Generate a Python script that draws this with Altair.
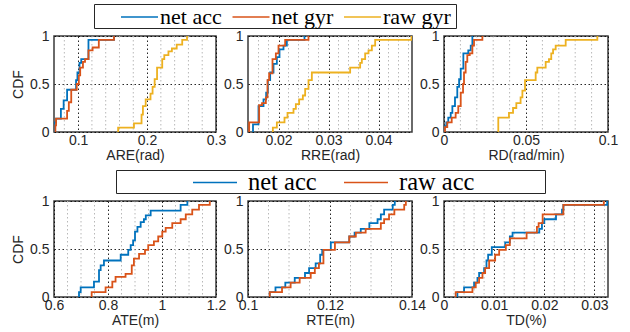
import altair as alt
import pandas as pd

BLUE = "#0072BD"
RED = "#D95319"
YEL = "#EDB120"

TOP_SERIES = ["net acc", "net gyr", "raw gyr"]
TOP_COLORS = [BLUE, RED, YEL]
BOT_SERIES = ["net acc", "raw acc"]
BOT_COLORS = [BLUE, RED]

# ---------------- ARE(rad) ----------------
are_acc_x = [0.0658, 0.068, 0.075, 0.079, 0.084, 0.097, 0.099, 0.102, 0.1045, 0.115, 0.152]
are_acc_y = [0.10, 0.14, 0.24, 0.33, 0.44, 0.54, 0.62, 0.72, 0.76, 0.96, 1.0]
are_gyr_x = [0.067, 0.068, 0.084, 0.0865, 0.090, 0.098, 0.101, 0.103, 0.107, 0.110, 0.115, 0.121, 0.130, 0.152]
are_gyr_y = [0.07, 0.14, 0.22, 0.31, 0.44, 0.50, 0.59, 0.67, 0.73, 0.76, 0.85, 0.88, 0.96, 1.0]
are_raw_x = [0.158, 0.181, 0.192, 0.194, 0.198, 0.205, 0.208, 0.211, 0.2145, 0.222, 0.225, 0.231, 0.236, 0.243, 0.251, 0.258]
are_raw_y = [0.045, 0.09, 0.18, 0.27, 0.34, 0.40, 0.47, 0.55, 0.67, 0.76, 0.80, 0.84, 0.87, 0.91, 0.96, 1.0]

# ---------------- RRE(rad) ----------------
rre_acc_x = [0.0149, 0.0160, 0.0170, 0.01753, 0.01787, 0.01833, 0.0190, 0.01967, 0.0202, 0.0210, 0.02167, 0.0252]
rre_acc_y = [0.08, 0.27, 0.34, 0.41, 0.54, 0.62, 0.71, 0.78, 0.86, 0.90, 0.96, 1.0]
rre_gyr_x = [0.01413, 0.01613, 0.0167, 0.01747, 0.0178, 0.01813, 0.0188, 0.01947, 0.0200, 0.02133, 0.026]
rre_gyr_y = [0.10, 0.28, 0.30, 0.36, 0.54, 0.61, 0.76, 0.82, 0.90, 0.96, 1.0]
rre_raw_x = [0.01887, 0.01967, 0.0212, 0.0218, 0.0230, 0.02347, 0.02413, 0.02487, 0.02533, 0.0260, 0.02667,
             0.03433, 0.03633, 0.03667, 0.03733, 0.038, 0.03867, 0.03933, 0.0466]
rre_raw_y = [0.045, 0.10, 0.15, 0.20, 0.24, 0.29, 0.34, 0.38, 0.45, 0.54, 0.62,
             0.67, 0.72, 0.76, 0.82, 0.85, 0.90, 0.96, 1.0]

# ---------------- RD(rad/min) ----------------
rd_acc_x = [0.0003, 0.0014, 0.0026, 0.0041, 0.0051, 0.0067, 0.0081, 0.0092, 0.0102, 0.0118, 0.0148, 0.0163, 0.0173]
rd_acc_y = [0.06, 0.10, 0.15, 0.20, 0.27, 0.36, 0.47, 0.55, 0.66, 0.82, 0.85, 0.90, 1.0]
rd_gyr_x = [0.0006, 0.002, 0.0047, 0.0071, 0.0087, 0.0102, 0.0116, 0.0122, 0.0132, 0.0142, 0.0157, 0.0173, 0.0183, 0.0234]
rd_gyr_y = [0.05, 0.10, 0.15, 0.20, 0.27, 0.41, 0.50, 0.62, 0.73, 0.80, 0.82, 0.90, 0.96, 1.0]
rd_raw_x = [0.0331, 0.0396, 0.0421, 0.0441, 0.0467, 0.0478, 0.0494, 0.0559, 0.0569, 0.062, 0.064, 0.0654, 0.0665, 0.0681, 0.0742, 0.0935]
rd_raw_y = [0.15, 0.20, 0.25, 0.30, 0.36, 0.43, 0.54, 0.62, 0.67, 0.73, 0.76, 0.82, 0.86, 0.90, 0.96, 1.0]

# ---------------- ATE(m) ----------------
ate_acc_x = [0.6926, 0.6988, 0.748, 0.7667, 0.7728, 0.785, 0.847, 0.875, 0.884, 0.893, 0.900, 0.909, 0.921, 0.933, 0.940, 0.958, 1.069, 1.094]
ate_acc_y = [0.05, 0.10, 0.16, 0.28, 0.33, 0.38, 0.44, 0.49, 0.54, 0.59, 0.68, 0.73, 0.78, 0.81, 0.85, 0.90, 0.96, 1.0]
ate_raw_x = [0.7395, 0.791, 0.816, 0.828, 0.865, 0.888, 0.896, 0.915, 0.937, 0.949, 0.970, 0.986, 1.001, 1.0136, 1.038, 1.069, 1.088, 1.112, 1.137, 1.177]
ate_raw_y = [0.05, 0.10, 0.16, 0.21, 0.24, 0.33, 0.40, 0.45, 0.49, 0.54, 0.58, 0.63, 0.68, 0.72, 0.77, 0.81, 0.86, 0.91, 0.96, 1.0]

# ---------------- RTE(m) ----------------
rte_acc_x = [0.1053, 0.1067, 0.1091, 0.1114, 0.1139, 0.1149, 0.1165, 0.1176, 0.1181, 0.1202, 0.1247, 0.126, 0.1275, 0.1296, 0.1316, 0.1324, 0.1332, 0.1353, 0.1358]
rte_acc_y = [0.05, 0.10, 0.15, 0.20, 0.25, 0.30, 0.35, 0.44, 0.49, 0.57, 0.63, 0.67, 0.71, 0.77, 0.81, 0.86, 0.91, 0.96, 1.0]
rte_raw_x = [0.1053, 0.1083, 0.1104, 0.1126, 0.1153, 0.1163, 0.1173, 0.1184, 0.1212, 0.1247, 0.1263, 0.1287, 0.1324, 0.1332, 0.1344, 0.1357, 0.1381, 0.1385]
rte_raw_y = [0.05, 0.10, 0.15, 0.20, 0.25, 0.30, 0.35, 0.49, 0.57, 0.63, 0.67, 0.71, 0.77, 0.81, 0.86, 0.91, 0.96, 1.0]

# ---------------- TD(%) ----------------
td_acc_x = [0.00267, 0.004, 0.006, 0.00667, 0.007, 0.008, 0.00847, 0.0088, 0.00953, 0.0122, 0.01313, 0.01367, 0.019, 0.01953, 0.02, 0.02233, 0.02353, 0.0238, 0.03253]
td_acc_y = [0.05, 0.10, 0.15, 0.20, 0.25, 0.30, 0.38, 0.44, 0.52, 0.57, 0.63, 0.67, 0.71, 0.77, 0.81, 0.86, 0.91, 0.96, 1.0]
td_raw_x = [0.00233, 0.00567, 0.00633, 0.007, 0.00767, 0.0082, 0.009, 0.0102, 0.011, 0.01233, 0.01313, 0.01647, 0.01853, 0.01887, 0.01967, 0.0238, 0.03187]
td_raw_y = [0.05, 0.10, 0.15, 0.20, 0.25, 0.30, 0.38, 0.44, 0.49, 0.54, 0.61, 0.67, 0.73, 0.77, 0.86, 0.96, 1.0]

# axis ranges, major ticks (labelled) and minor grid positions
are_dom, are_major = [0.065, 0.3], [0.1, 0.2, 0.3]
are_minor = [0.08, 0.12, 0.14, 0.16, 0.18, 0.22, 0.24, 0.26, 0.28]
rre_dom, rre_major = [0.0139, 0.0467], [0.02, 0.03, 0.04]
rre_minor = [0.016, 0.018, 0.022, 0.024, 0.026, 0.028, 0.032, 0.034, 0.036, 0.038, 0.042, 0.044, 0.046]
rd_dom, rd_major = [0.0, 0.1], [0.0, 0.05, 0.1]
rd_minor = [0.01, 0.02, 0.03, 0.04, 0.06, 0.07, 0.08, 0.09]
ate_dom, ate_major = [0.6, 1.2], [0.6, 0.8, 1.0, 1.2]
ate_minor = [0.65, 0.7, 0.75, 0.85, 0.9, 0.95, 1.05, 1.1, 1.15]
rte_dom, rte_major = [0.1, 0.14], [0.1, 0.12, 0.14]
rte_minor = [0.105, 0.11, 0.115, 0.125, 0.13, 0.135]
td_dom, td_major = [0.0, 0.0327], [0.0, 0.01, 0.02, 0.03]
td_minor = [0.002, 0.004, 0.006, 0.008, 0.012, 0.014, 0.016, 0.018, 0.022, 0.024, 0.026, 0.028, 0.032]
y_ticks = [0, 0.5, 1]


def build_df(series):
    rows = []
    for name, xs, ys in series:
        rows.append({"series": name, "x": xs[0], "cdf": 0.0, "i": 0})
        for j, (a, b) in enumerate(zip(xs, ys)):
            rows.append({"series": name, "x": a, "cdf": b, "i": j + 1})
    return pd.DataFrame(rows)


def panel(series, dom, major, minor, xtitle, width, names, colors, left=False):
    df = build_df(series)
    xscale = alt.Scale(domain=dom, nice=False, zero=False)
    xaxis = alt.Axis(values=major, format="~g", title=xtitle)
    grid = alt.Chart(pd.DataFrame({"g": minor})).mark_rule(
        color="#b8b8b8", strokeDash=[1.5, 2.5], strokeWidth=1
    ).encode(x=alt.X("g:Q", scale=xscale, axis=xaxis))
    yaxis_kw = dict(values=y_ticks, format="~g")
    yaxis_kw["title"] = "CDF" if left else ""
    lines = alt.Chart(df).mark_line(interpolate="step-after", strokeWidth=1.8, clip=True).encode(
        x=alt.X("x:Q", scale=xscale, axis=xaxis),
        y=alt.Y("cdf:Q", scale=alt.Scale(domain=[0, 1], nice=False), axis=alt.Axis(**yaxis_kw)),
        color=alt.Color("series:N", scale=alt.Scale(domain=names, range=colors), legend=None),
        order=alt.Order("i:Q"),
        detail="series:N",
    )
    return alt.layer(grid, lines).properties(width=width, height=96)


def legend_box(names, colors, width, height, lx, ly, fsize, ssize, shape, loff, cpad):
    df = pd.DataFrame({"series": names, "v": [None] * len(names)})
    return alt.Chart(df).mark_line().encode(
        x=alt.X("v:Q", axis=None, scale=alt.Scale(domain=[0, 1])),
        y=alt.Y("v:Q", axis=None, scale=alt.Scale(domain=[0, 1])),
        color=alt.Color(
            "series:N",
            scale=alt.Scale(domain=names, range=colors),
            legend=alt.Legend(
                orient="none", legendX=lx, legendY=ly, direction="horizontal", title=None,
                symbolType=shape, symbolSize=ssize, symbolStrokeWidth=1.5,
                labelFont="Liberation Serif", labelFontSize=fsize, labelColor="black",
                labelOffset=loff, columnPadding=cpad, padding=0, labelLimit=400,
            ),
        ),
    ).properties(width=width, height=height,
                 view=alt.ViewBackground(stroke="#262626", strokeWidth=1, fill="white"))


def spacer(width, height):
    df = pd.DataFrame({"v": [None]})
    return alt.Chart(df).mark_point().encode(
        x=alt.X("v:Q", axis=None, scale=alt.Scale(domain=[0, 1])),
        y=alt.Y("v:Q", axis=None, scale=alt.Scale(domain=[0, 1])),
    ).properties(width=width, height=height, view=alt.ViewBackground(strokeOpacity=0))


p1 = panel([("net acc", are_acc_x, are_acc_y), ("net gyr", are_gyr_x, are_gyr_y), ("raw gyr", are_raw_x, are_raw_y)],
           are_dom, are_major, are_minor, "ARE(rad)", 162, TOP_SERIES, TOP_COLORS, left=True)
p2 = panel([("net acc", rre_acc_x, rre_acc_y), ("net gyr", rre_gyr_x, rre_gyr_y), ("raw gyr", rre_raw_x, rre_raw_y)],
           rre_dom, rre_major, rre_minor, "RRE(rad)", 164, TOP_SERIES, TOP_COLORS)
p3 = panel([("net acc", rd_acc_x, rd_acc_y), ("net gyr", rd_gyr_x, rd_gyr_y), ("raw gyr", rd_raw_x, rd_raw_y)],
           rd_dom, rd_major, rd_minor, "RD(rad/min)", 164, TOP_SERIES, TOP_COLORS)
p4 = panel([("net acc", ate_acc_x, ate_acc_y), ("raw acc", ate_raw_x, ate_raw_y)],
           ate_dom, ate_major, ate_minor, "ATE(m)", 162, BOT_SERIES, BOT_COLORS, left=True)
p5 = panel([("net acc", rte_acc_x, rte_acc_y), ("raw acc", rte_raw_x, rte_raw_y)],
           rte_dom, rte_major, rte_minor, "RTE(m)", 164, BOT_SERIES, BOT_COLORS)
p6 = panel([("net acc", td_acc_x, td_acc_y), ("raw acc", td_raw_x, td_raw_y)],
           td_dom, td_major, td_minor, "TD(%)", 164, BOT_SERIES, BOT_COLORS)

# legend line symbols: a long horizontal stroke with a compact entry height
leg_top = legend_box(TOP_SERIES, TOP_COLORS, 362, 24, 34.5, 2, 22, 400, "M-1.85,0H1.85", 9.5, 6.5)
leg_bot = legend_box(BOT_SERIES, BOT_COLORS, 429, 23, 86.5, 0, 24.5, 529, "M-1.913,0H1.913", 20.5, 23)

row1 = alt.hconcat(p1, p2, p3, spacing=32, bounds="flush").resolve_scale(color="independent")
row2 = alt.hconcat(p4, p5, p6, spacing=32, bounds="flush").resolve_scale(color="independent")
lrow1 = alt.hconcat(spacer(20, 24), leg_top, spacing=20, bounds="flush").resolve_scale(color="independent")
lrow2 = alt.hconcat(spacer(31, 23), leg_bot, spacing=31, bounds="flush").resolve_scale(color="independent")

g1 = alt.vconcat(lrow1, row1, spacing=-1).resolve_scale(color="independent")
g2 = alt.vconcat(lrow2, row2, spacing=-2).resolve_scale(color="independent")

chart = alt.vconcat(g1, g2, spacing=6).resolve_scale(color="independent").properties(
    padding={"left": 10, "top": 3, "right": 5, "bottom": 5},
    background="white",
).configure_axis(
    labelFont="Liberation Sans", labelFontSize=14, labelColor="#262626",
    titleFont="Liberation Sans", titleFontSize=14, titleFontWeight="normal", titleColor="#262626",
    ticks=False, domain=False, grid=True, gridColor="#000000", gridDash=[1.5, 2.5],
    gridOpacity=0.85, gridWidth=1, labelOverlap=False, labelFlush=False, labelBound=False,
).configure_axisX(labelPadding=1.5, titlePadding=0.5).configure_axisY(
    labelPadding=5, titlePadding=4
).configure_view(stroke="#3a3a3a", strokeWidth=1.5)

chart.save("out.html", embed_options={"renderer": "svg", "actions": False})
